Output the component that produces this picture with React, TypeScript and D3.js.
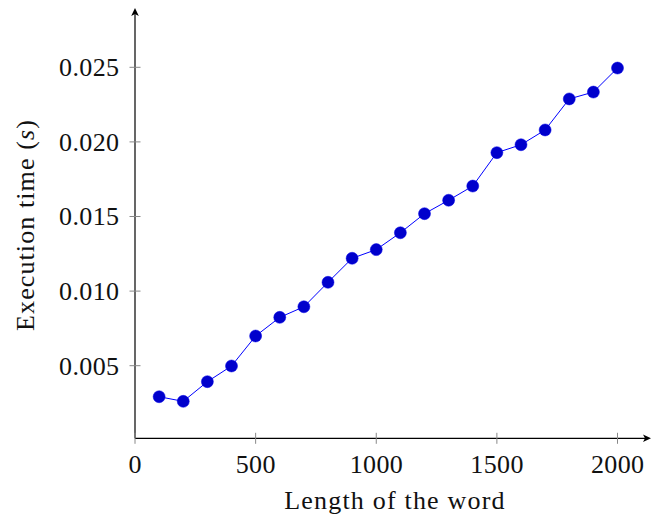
import React from "react";
import * as d3 from "d3";

const wordLengths = [100, 200, 300, 400, 500, 600, 700, 800, 900, 1000, 1100, 1200, 1300, 1400, 1500, 1600, 1700, 1800, 1900, 2000];
const execTimes = [0.00292, 0.00261, 0.00393, 0.00498, 0.00699, 0.00824, 0.00895, 0.01059, 0.0122, 0.01278, 0.01391, 0.01519, 0.01609, 0.01704, 0.01928, 0.01981, 0.0208, 0.02288, 0.02334, 0.02495];
const xTicks = [0, 500, 1000, 1500, 2000];
const yTicks = [0.005, 0.01, 0.015, 0.02, 0.025];

const W = 651;
const H = 517;
const FONT = "'Liberation Serif', 'DejaVu Serif', serif";

export default function App() {
  const x = d3.scaleLinear().domain([0, 2000]).range([135, 617.5]);
  const y = d3.scaleLinear().domain([0, 0.025]).range([440.3, 67.3]);
  const axisY = 438.3;
  const axisX = 135;
  const data = wordLengths.map((d, i) => ({ x: d, y: execTimes[i] }));
  const line = d3
    .line<{ x: number; y: number }>()
    .x((d) => x(d.x))
    .y((d) => y(d.y));
  const fmt = d3.format(".3f");

  return (
    <svg
      width={W}
      height={H}
      style={{ position: "absolute", left: 0, top: 0, background: "#fff" }}
      fontFamily={FONT}
    >
      {/* axes */}
      <line x1={axisX} y1={axisY} x2={648} y2={axisY} stroke="#000" strokeWidth={1.2} />
      <line x1={axisX} y1={axisY} x2={axisX} y2={12} stroke="#000" strokeWidth={1.2} />
      <path d={`M651,${axisY} L643,${axisY - 3.8} L645,${axisY} L643,${axisY + 3.8} Z`} fill="#000" />
      <path d={`M${axisX},8 L${axisX - 3.8},16 L${axisX},14 L${axisX + 3.8},16 Z`} fill="#000" />

      {/* x ticks */}
      {xTicks.map((t) => (
        <g key={"xt" + t}>
          <line x1={x(t)} x2={x(t)} y1={axisY - 5.5} y2={axisY + 5.5} stroke="#888" strokeWidth={1} />
          <text x={x(t) + 0.2} y={472.5} textAnchor="middle" fontSize={26} letterSpacing={0.4} fill="#111">
            {t}
          </text>
        </g>
      ))}

      {/* y ticks */}
      {yTicks.map((t) => (
        <g key={"yt" + t}>
          <line x1={axisX - 5.5} x2={axisX + 5.5} y1={y(t)} y2={y(t)} stroke="#888" strokeWidth={1} />
          <text x={119.5} y={y(t)} dy="0.34em" textAnchor="end" fontSize={26} letterSpacing={0.4} fill="#111">
            {fmt(t)}
          </text>
        </g>
      ))}

      {/* axis titles */}
      <text x={395} y={508.5} textAnchor="middle" fontSize={26} letterSpacing={1.2} fill="#111">
        Length of the word
      </text>
      <text
        transform={`translate(34,225) rotate(-90)`}
        textAnchor="middle"
        fontSize={26}
        letterSpacing={1.1}
        fill="#111"
      >
        Execution time (<tspan fontStyle="italic">s</tspan>)
      </text>

      {/* series */}
      <path d={line(data) || ""} fill="none" stroke="#0000ff" strokeWidth={1} />
      {data.map((d, i) => (
        <circle key={"p" + i} cx={x(d.x)} cy={y(d.y)} r={6} fill="#0000cc" stroke="#0000e6" strokeWidth={0.5} />
      ))}
    </svg>
  );
}
